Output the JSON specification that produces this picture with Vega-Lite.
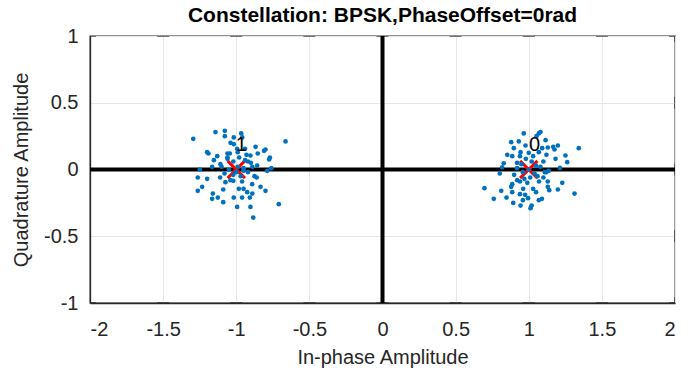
{
  "$schema": "https://vega.github.io/schema/vega-lite/v6.json",
  "width": 585,
  "height": 267,
  "autosize": "none",
  "padding": {"left": 90, "top": 36, "right": 19, "bottom": 75},
  "background": "white",
  "config": {
    "font": "Liberation Sans",
    "view": {"stroke": "#262626", "strokeWidth": 1.3},
    "axis": {
      "labelFont": "Liberation Sans",
      "titleFont": "Liberation Sans",
      "labelFontSize": 20,
      "titleFontSize": 20,
      "titleFontWeight": "normal",
      "labelColor": "#262626",
      "titleColor": "#262626",
      "domainColor": "#262626",
      "gridColor": "#e6e6e6",
      "gridWidth": 1,
      "ticks": false
    }
  },
  "title": {
    "text": "Constellation: BPSK,PhaseOffset=0rad",
    "fontSize": 21,
    "fontWeight": "bold",
    "color": "#000000",
    "font": "Liberation Sans",
    "offset": 0
  },
  "datasets": {
    "rx": [
      {"i": -1.294, "q": 0.23}, {"i": -1.142, "q": 0.28}, {"i": -1.078, "q": 0.29}, {"i": -1.078, "q": 0.25},
      {"i": -1.017, "q": 0.24}, {"i": -0.966, "q": 0.27}, {"i": -0.959, "q": 0.24}, {"i": -1.039, "q": 0.2},
      {"i": -1.017, "q": 0.19}, {"i": -0.663, "q": 0.21}, {"i": -0.868, "q": 0.17}, {"i": -1.199, "q": 0.13},
      {"i": -1.19, "q": 0.12}, {"i": -0.8, "q": 0.15}, {"i": -0.81, "q": 0.14}, {"i": -0.853, "q": 0.12},
      {"i": -0.77, "q": 0.09}, {"i": -0.775, "q": 0.075}, {"i": -1.044, "q": 0.12}, {"i": -0.994, "q": 0.155},
      {"i": -0.94, "q": 0.155}, {"i": -0.903, "q": 0.105}, {"i": -1.153, "q": 0.07}, {"i": -1.108, "q": 0.04},
      {"i": -1.06, "q": 0.09}, {"i": -0.857, "q": 0.03}, {"i": -0.92, "q": 0.06}, {"i": -0.89, "q": 0.02},
      {"i": -1.249, "q": 0.0}, {"i": -1.165, "q": 0.02}, {"i": -0.788, "q": -0.01}, {"i": -0.76, "q": 0.01},
      {"i": -1.263, "q": -0.06}, {"i": -1.199, "q": -0.07}, {"i": -1.074, "q": -0.095}, {"i": -1.02, "q": -0.085},
      {"i": -0.875, "q": -0.05}, {"i": -0.86, "q": -0.06}, {"i": -0.891, "q": -0.11}, {"i": -0.834, "q": -0.13},
      {"i": -1.233, "q": -0.13}, {"i": -1.263, "q": -0.16}, {"i": -1.16, "q": -0.18}, {"i": -1.089, "q": -0.15},
      {"i": -0.982, "q": -0.145}, {"i": -0.95, "q": -0.145}, {"i": -0.925, "q": -0.17}, {"i": -0.89, "q": -0.18},
      {"i": -0.8, "q": -0.16}, {"i": -1.165, "q": -0.22}, {"i": -1.126, "q": -0.21}, {"i": -1.089, "q": -0.245},
      {"i": -1.017, "q": -0.21}, {"i": -0.96, "q": -0.21}, {"i": -0.907, "q": -0.21}, {"i": -0.709, "q": -0.26},
      {"i": -0.994, "q": -0.28}, {"i": -0.903, "q": -0.28}, {"i": -0.884, "q": -0.36},
      {"i": -1.06, "q": 0.08}, {"i": -1.02, "q": 0.06}, {"i": -0.98, "q": 0.09}, {"i": -0.94, "q": 0.07},
      {"i": -1.1, "q": 0.02}, {"i": -1.05, "q": 0.0}, {"i": -0.99, "q": 0.02}, {"i": -0.95, "q": 0.01},
      {"i": -0.92, "q": -0.02}, {"i": -1.08, "q": -0.03}, {"i": -1.02, "q": -0.04}, {"i": -0.97, "q": -0.05},
      {"i": -1.04, "q": -0.08}, {"i": -0.96, "q": -0.09}, {"i": -1.13, "q": 0.1}, {"i": -0.9, "q": 0.05},
      {"i": -1.0, "q": -0.02}, {"i": -1.06, "q": 0.12}, {"i": -0.93, "q": 0.11}, {"i": -1.11, "q": -0.06},
      {"i": -0.99, "q": 0.13}, {"i": -0.95, "q": -0.01},
      {"i": 0.966, "q": 0.27}, {"i": 1.069, "q": 0.27}, {"i": 1.08, "q": 0.28}, {"i": 1.053, "q": 0.25},
      {"i": 1.115, "q": 0.22}, {"i": 0.88, "q": 0.205}, {"i": 0.932, "q": 0.21}, {"i": 0.978, "q": 0.18},
      {"i": 0.898, "q": 0.16}, {"i": 1.092, "q": 0.16}, {"i": 1.13, "q": 0.165}, {"i": 1.167, "q": 0.17},
      {"i": 1.199, "q": 0.18}, {"i": 1.342, "q": 0.16}, {"i": 0.853, "q": 0.11}, {"i": 0.887, "q": 0.1},
      {"i": 0.944, "q": 0.13}, {"i": 1.0, "q": 0.125}, {"i": 1.069, "q": 0.13}, {"i": 1.121, "q": 0.11},
      {"i": 1.176, "q": 0.15}, {"i": 1.251, "q": 0.105}, {"i": 1.183, "q": 0.08}, {"i": 1.263, "q": 0.055},
      {"i": 0.829, "q": 0.047}, {"i": 0.92, "q": 0.05}, {"i": 0.818, "q": 0.017}, {"i": 1.213, "q": 0.012},
      {"i": 0.802, "q": -0.03}, {"i": 1.137, "q": -0.01}, {"i": 1.11, "q": -0.02}, {"i": 1.1, "q": -0.06},
      {"i": 0.921, "q": -0.08}, {"i": 0.94, "q": -0.09}, {"i": 0.887, "q": -0.11}, {"i": 1.13, "q": -0.09},
      {"i": 1.229, "q": -0.1}, {"i": 0.697, "q": -0.14}, {"i": 0.88, "q": -0.13}, {"i": 0.962, "q": -0.145},
      {"i": 1.03, "q": -0.145}, {"i": 1.13, "q": -0.13}, {"i": 1.14, "q": -0.155}, {"i": 1.199, "q": -0.15},
      {"i": 0.812, "q": -0.16}, {"i": 0.887, "q": -0.17}, {"i": 0.94, "q": -0.185}, {"i": 0.975, "q": -0.19},
      {"i": 1.05, "q": -0.17}, {"i": 1.313, "q": -0.18}, {"i": 0.761, "q": -0.22}, {"i": 0.848, "q": -0.21},
      {"i": 0.894, "q": -0.25}, {"i": 0.96, "q": -0.23}, {"i": 0.995, "q": -0.215}, {"i": 1.069, "q": -0.23},
      {"i": 1.09, "q": -0.22}, {"i": 0.944, "q": -0.27}, {"i": 1.012, "q": -0.29}, {"i": 1.02, "q": -0.27},
      {"i": 1.02, "q": 0.06}, {"i": 0.98, "q": 0.08}, {"i": 0.95, "q": 0.04}, {"i": 1.05, "q": 0.03},
      {"i": 1.0, "q": 0.0}, {"i": 0.96, "q": -0.02}, {"i": 1.04, "q": -0.03}, {"i": 1.08, "q": 0.02},
      {"i": 0.92, "q": 0.01}, {"i": 1.01, "q": -0.06}, {"i": 0.97, "q": -0.07}, {"i": 1.06, "q": -0.05},
      {"i": 0.94, "q": 0.1}, {"i": 1.1, "q": 0.06}, {"i": 1.03, "q": 0.1}, {"i": 0.99, "q": -0.1},
      {"i": 1.07, "q": -0.09}, {"i": 0.9, "q": -0.04}, {"i": 1.12, "q": -0.02}
    ],
    "ref": [
      {"i": -1, "q": 0, "label": "1", "li": -0.965, "lq": 0.185},
      {"i": 1, "q": 0, "label": "0", "li": 1.04, "lq": 0.185}
    ],
    "xt": [{"v": -2}, {"v": -1.5}, {"v": -1}, {"v": -0.5}, {"v": 0}, {"v": 0.5}, {"v": 1}, {"v": 1.5}, {"v": 2}],
    "yt": [{"v": -1}, {"v": -0.5}, {"v": 0}, {"v": 0.5}, {"v": 1}],
    "origin": [{"o": 0}]
  },
  "layer": [
    {
      "data": {"name": "rx"},
      "mark": {"type": "point", "opacity": 0},
      "encoding": {
        "x": {"field": "i", "type": "quantitative",
          "scale": {"domain": [-2, 2], "nice": false, "zero": false},
          "axis": {"orient": "bottom", "title": "In-phase Amplitude", "grid": true,
            "values": [-2, -1.5, -1, -0.5, 0, 0.5, 1, 1.5, 2],
            "labelExpr": "datum.value + ''",
            "labelPadding": 16, "titlePadding": 8, "domainWidth": 1.3}},
        "y": {"field": "q", "type": "quantitative",
          "scale": {"domain": [-1, 1], "nice": false, "zero": false},
          "axis": {"orient": "left", "title": "Quadrature Amplitude", "grid": true,
            "values": [-1, -0.5, 0, 0.5, 1],
            "labelExpr": "datum.value + ''",
            "labelPadding": 12, "titlePadding": 12, "domainWidth": 1.3}}
      }
    },
    {
      "data": {"name": "xt"},
      "mark": {"type": "tick", "orient": "horizontal", "clip": true, "size": 12, "thickness": 1.2, "color": "#262626", "opacity": 1},
      "encoding": {
        "x": {"field": "v", "type": "quantitative"},
        "y": {"datum": -1, "type": "quantitative"}
      }
    },
    {
      "data": {"name": "xt"},
      "mark": {"type": "tick", "orient": "horizontal", "clip": true, "size": 12, "thickness": 1.2, "color": "#262626", "opacity": 1},
      "encoding": {
        "x": {"field": "v", "type": "quantitative"},
        "y": {"datum": 1, "type": "quantitative"}
      }
    },
    {
      "data": {"name": "yt"},
      "mark": {"type": "tick", "orient": "vertical", "clip": true, "size": 12, "thickness": 1.2, "color": "#262626", "opacity": 1},
      "encoding": {
        "y": {"field": "v", "type": "quantitative"},
        "x": {"datum": -2, "type": "quantitative"}
      }
    },
    {
      "data": {"name": "yt"},
      "mark": {"type": "tick", "orient": "vertical", "clip": true, "size": 12, "thickness": 1.2, "color": "#262626", "opacity": 1},
      "encoding": {
        "y": {"field": "v", "type": "quantitative"},
        "x": {"datum": 2, "type": "quantitative"}
      }
    },
    {
      "data": {"name": "origin"},
      "mark": {"type": "rule", "color": "#000000", "strokeWidth": 4},
      "encoding": {"x": {"field": "o", "type": "quantitative"}}
    },
    {
      "data": {"name": "origin"},
      "mark": {"type": "rule", "color": "#000000", "strokeWidth": 4},
      "encoding": {"y": {"field": "o", "type": "quantitative"}}
    },
    {
      "data": {"name": "ref"},
      "mark": {"type": "point", "shape": "M-1,-1L1,1M1,-1L-1,1", "filled": false, "color": "#ff0000", "strokeWidth": 3, "size": 300, "opacity": 1},
      "encoding": {
        "x": {"field": "i", "type": "quantitative"},
        "y": {"field": "q", "type": "quantitative"}
      }
    },
    {
      "data": {"name": "rx"},
      "mark": {"type": "circle", "color": "#0072BD", "size": 22, "opacity": 1},
      "encoding": {
        "x": {"field": "i", "type": "quantitative"},
        "y": {"field": "q", "type": "quantitative"}
      }
    },
    {
      "data": {"name": "ref"},
      "mark": {"type": "text", "fontSize": 20, "color": "#000000", "font": "Liberation Sans"},
      "encoding": {
        "x": {"field": "li", "type": "quantitative"},
        "y": {"field": "lq", "type": "quantitative"},
        "text": {"field": "label"}
      }
    }
  ]
}
